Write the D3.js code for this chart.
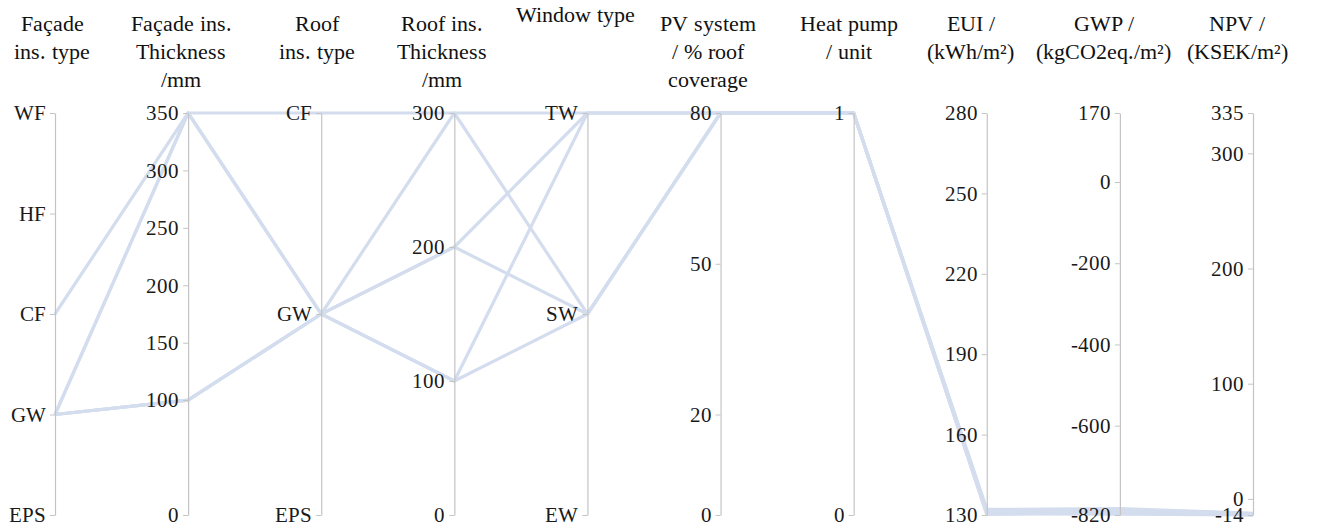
<!DOCTYPE html>
<html>
<head>
<meta charset="utf-8">
<script src="https://cdn.jsdelivr.net/npm/d3@7/dist/d3.min.js"></script>
<style>
  @font-face {
    font-family: "ChartSerif";
    src: local("Liberation Serif"), local("LiberationSerif"), local("LiberationSerif-Regular"), local("Tinos");
  }
  body { margin: 0; }
  svg { display: block; }
  svg text { font-family: "ChartSerif"; }
</style>
</head>
<body>
<svg id="chart" width="1320" height="527" font-family="Liberation Serif"></svg>
<script>
// Categorical levels (top to bottom)
const facadeTypes = ["WF", "HF", "CF", "GW", "EPS"];
const roofTypes = ["CF", "GW", "EPS"];
const windowTypes = ["TW", "SW", "EW"];

// Tick values for the numeric axes
const facadeThicknessTicks = [0, 100, 150, 200, 250, 300, 350];
const roofThicknessTicks = [0, 100, 200, 300];
const pvTicks = [0, 20, 50, 80];
const heatPumpTicks = [0, 1];
const euiTicks = [130, 160, 190, 220, 250, 280];
const gwpTicks = [-820, -600, -400, -200, 0, 170];
const npvTicks = [-14, 0, 100, 200, 300, 335];

// Solutions, one entry per polyline
const facadeType      = ["CF", "GW", "GW", "GW", "GW", "GW"];
const facadeThickness = [350, 350, 100, 100, 100, 350];
const roofType        = ["CF", "GW", "GW", "GW", "GW", "GW"];
const roofThickness   = [300, 300, 200, 200, 100, 100];
const windowType      = ["TW", "SW", "TW", "SW", "TW", "SW"];
const pvCoverage      = [80, 80, 80, 80, 80, 80];
const heatPump        = [1, 1, 1, 1, 1, 1];
const eui             = [131.9, 130.4, 131.3, 130.8, 132.1, 130.2];
const gwp             = [-804, -818, -810, -815, -806, -812];
const npv             = [-12.6, -14, -13.2, -13.7, -12.8, -13.9];

// Axis titles
const titles = [
  ["Façade", "ins. type"],
  ["Façade ins.", "Thickness", "/mm"],
  ["Roof", "ins. type"],
  ["Roof ins.", "Thickness", "/mm"],
  ["Window type"],
  ["PV system", "/ % roof", "coverage"],
  ["Heat pump", "/ unit"],
  ["EUI /", "(kWh/m²)"],
  ["GWP /", "(kgCO2eq./m²)"],
  ["NPV /", "(KSEK/m²)"]
];

// Layout
const yTop = 113, yBottom = 515;
const titleDx = [-3, -7, -4, -12, -12, -13, -5, -16, -16, -16];
const titleBaseline = [31, 31, 31, 31, 22, 31, 31, 31, 31, 31];
const lineHeight = 28;

const svg = d3.select("#chart");

const columns = [facadeType, facadeThickness, roofType, roofThickness, windowType,
                 pvCoverage, heatPump, eui, gwp, npv];

const pointY = levels => d3.scalePoint().domain(levels).range([yTop, yBottom]);
const linY = ticks => d3.scaleLinear().domain(d3.extent(ticks)).range([yBottom, yTop]);

const dims = [
  { scale: pointY(facadeTypes), ticks: facadeTypes },
  { scale: linY(facadeThicknessTicks), ticks: facadeThicknessTicks },
  { scale: pointY(roofTypes), ticks: roofTypes },
  { scale: linY(roofThicknessTicks), ticks: roofThicknessTicks },
  { scale: pointY(windowTypes), ticks: windowTypes },
  { scale: linY(pvTicks), ticks: pvTicks },
  { scale: linY(heatPumpTicks), ticks: heatPumpTicks },
  { scale: linY(euiTicks), ticks: euiTicks },
  { scale: linY(gwpTicks), ticks: gwpTicks },
  { scale: linY(npvTicks), ticks: npvTicks }
];

const x = d3.scalePoint().domain(d3.range(dims.length)).range([55, 1253]);

// Polylines
const rows = d3.range(facadeType.length).map(i => columns.map(c => c[i]));
const line = d3.line()
  .x((d, j) => x(j))
  .y((d, j) => dims[j].scale(d));

svg.append("g")
  .attr("fill", "none")
  .attr("stroke", "#d3ddee")
  .attr("stroke-width", 3.2)
  .attr("stroke-linejoin", "round")
  .selectAll("path")
  .data(rows)
  .join("path")
  .attr("d", line);

// Axes
dims.forEach((dim, j) => {
  const g = svg.append("g")
    .attr("transform", `translate(${x(j)},0)`)
    .call(d3.axisLeft(dim.scale)
      .tickValues(dim.ticks)
      .tickFormat(d => String(d))
      .tickSize(5).tickSizeOuter(0).tickPadding(4));
  g.attr("font-family", null).attr("font-size", 21);
  g.select(".domain").attr("stroke", "#c4c4c4").attr("stroke-width", 1.2);
  g.selectAll(".tick line").attr("stroke", "#c4c4c4");
  g.selectAll(".tick text").attr("fill", "#1a1a1a");
});

// Titles
titles.forEach((lines, j) => {
  lines.forEach((s, k) => {
    svg.append("text")
      .attr("text-anchor", "middle")
      .attr("x", x(j) + titleDx[j])
      .attr("y", titleBaseline[j] + k * lineHeight)
      .attr("font-size", 22)
      .attr("fill", "#111")
      .text(s);
  });
});
</script>
</body>
</html>
